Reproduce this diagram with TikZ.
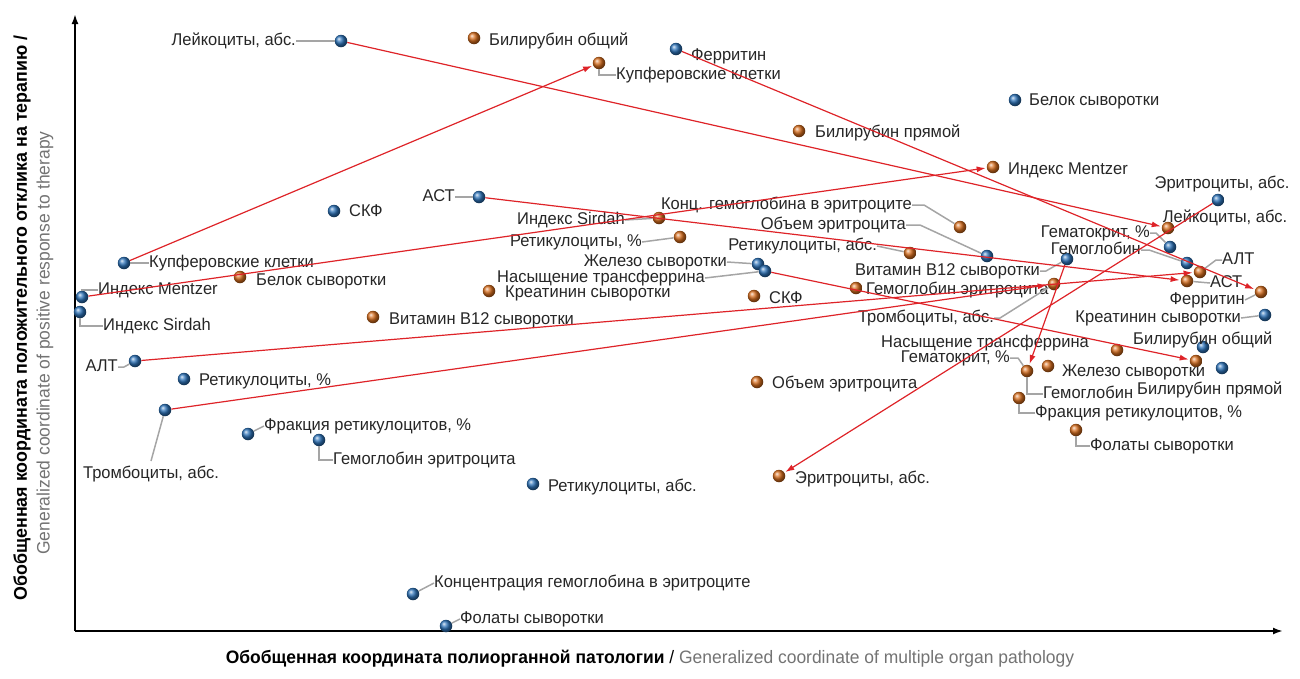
\documentclass[tikz,border=0pt]{standalone}
\usepackage{fontspec}
\setmainfont[FakeStretch=0.97]{Liberation Sans}
\usepackage{tikz}
\usetikzlibrary{arrows.meta,positioning}
\definecolor{ballblue}{RGB}{45,115,185}
\definecolor{ballorange}{RGB}{215,110,30}
\definecolor{arrred}{RGB}{222,35,40}
\definecolor{leadgray}{RGB}{165,165,165}
\begin{document}
\begin{tikzpicture}[x=1pt,y=-1pt,
  bdot/.style={circle,inner sep=0pt,minimum size=12.5pt,ball color=ballblue},
  odot/.style={circle,inner sep=0pt,minimum size=12.5pt,ball color=ballorange},
  lbl/.style={font=\fontsize{17}{19}\selectfont,text=black!85,inner sep=0pt,text height=12pt,text depth=3.5pt},
  lead/.style={draw=leadgray,line width=1.5pt},
  arr/.style={draw=arrred,line width=1.2pt,-{Latex[length=9pt,width=6pt]},shorten >=1pt}]
\useasboundingbox (0,0) rectangle (1300,678);

%axes
\coordinate (origin) at (75,631);
\coordinate (ytip) at (75,14);
\coordinate (xtip) at (1283,631);
\draw[line width=2pt,-{Latex[length=10pt,width=7pt]}] (origin) -- (ytip);
\draw[line width=2pt,-{Latex[length=10pt,width=7pt]}] (origin) -- (xtip);
\node[rotate=90,font=\fontsize{18.4}{20}\selectfont\bfseries] (ytitle) at (22,318) {Обобщенная координата положительного отклика на терапию /};
\node[rotate=90,font=\fontsize{18}{20}\selectfont,text=black!55] (ytitle2) at (45,343) {Generalized coordinate of positive response to therapy};
\node[font=\fontsize{18}{20}\selectfont] (xtitle) at (650,659) {\textbf{Обобщенная координата полиорганной патологии} / \textcolor{black!55}{Generalized coordinate of multiple organ pathology}};

%blue points
\node[bdot] (b-leik) at (341,41) {};
\node[bdot] (b-ferr) at (676,49) {};
\node[bdot] (b-belok) at (1015,100) {};
\node[bdot] (b-skf) at (334,211) {};
\node[bdot] (b-ast) at (479,197) {};
\node[bdot] (b-kupf) at (124,263) {};
\node[bdot] (b-mentz) at (82,297) {};
\node[bdot] (b-sird) at (80,312) {};
\node[bdot] (b-alt) at (135,361) {};
\node[bdot] (b-retp) at (184,379) {};
\node[bdot] (b-tromb) at (165,410) {};
\node[bdot] (b-frak) at (248,434) {};
\node[bdot] (b-hemer) at (319,440) {};
\node[bdot] (b-retabs) at (533,484) {};
\node[bdot] (b-konc) at (413,594) {};
\node[bdot] (b-folat) at (446,626) {};
\node[bdot] (b-zhel) at (758,264) {};
\node[bdot] (b-nas) at (765,271) {};
\node[bdot] (b-obem) at (987,256) {};
\node[bdot] (b-b12) at (1067,259) {};
\node[bdot] (b-eritr) at (1218,200) {};
\node[bdot] (b-gemat) at (1170,247) {};
\node[bdot] (b-gemgl) at (1187,263) {};
\node[bdot] (b-kreat) at (1265,315) {};
\node[bdot] (b-bilo) at (1203,347) {};
\node[bdot] (b-bilp) at (1222,368) {};

%orange points
\node[odot] (o-bilo) at (474,38) {};
\node[odot] (o-kupf) at (599,63) {};
\node[odot] (o-bilp) at (799,131) {};
\node[odot] (o-mentz) at (993,167) {};
\node[odot] (o-sird) at (659,218) {};
\node[odot] (o-retp) at (680,237) {};
\node[odot] (o-belok) at (240,277) {};
\node[odot] (o-kreat) at (489,291) {};
\node[odot] (o-b12) at (373,317) {};
\node[odot] (o-skf) at (754,296) {};
\node[odot] (o-hemer) at (856,288) {};
\node[odot] (o-obem) at (757,382) {};
\node[odot] (o-eritr) at (779,476) {};
\node[odot] (o-konc) at (960,227) {};
\node[odot] (o-retabs) at (910,253) {};
\node[odot] (o-tromb) at (1054,284) {};
\node[odot] (o-leik) at (1168,228) {};
\node[odot] (o-alt) at (1200,272) {};
\node[odot] (o-ast) at (1187,281) {};
\node[odot] (o-ferr) at (1261,292) {};
\node[odot] (o-nas) at (1117,350) {};
\node[odot] (o-gemat) at (1027,371) {};
\node[odot] (o-zhel) at (1048,366) {};
\node[odot] (o-frak) at (1019,398) {};
\node[odot] (o-folat) at (1076,430) {};
\node[odot] (o-x) at (1196,361) {};

%labels, blue
\node[lbl,anchor=east] (l-b-leik) at (296,41) {Лейкоциты, абс.};
\node[lbl,anchor=west] (l-b-ferr) at (691,56) {Ферритин};
\node[lbl,anchor=west] (l-b-belok) at (1029,101) {Белок сыворотки};
\node[lbl,anchor=west] (l-b-skf) at (349,212) {СКФ};
\node[lbl,anchor=east] (l-b-ast) at (455,197) {АСТ};
\node[lbl,anchor=west] (l-b-kupf) at (149,263) {Купферовские клетки};
\node[lbl,anchor=west] (l-b-mentz) at (98,290) {Индекс Mentzer};
\node[lbl,anchor=west] (l-b-sird) at (103,326) {Индекс Sirdah};
\node[lbl,anchor=east] (l-b-alt) at (118,367) {АЛТ};
\node[lbl,anchor=west] (l-b-retp) at (199,381) {Ретикулоциты, \%};
\node[lbl,anchor=north] (l-b-tromb) at (151,466) {Тромбоциты, абс.};
\node[lbl,anchor=west] (l-b-frak) at (264,426) {Фракция ретикулоцитов, \%};
\node[lbl,anchor=west] (l-b-hemer) at (333,460) {Гемоглобин эритроцита};
\node[lbl,anchor=west] (l-b-retabs) at (548,487) {Ретикулоциты, абс.};
\node[lbl,anchor=west] (l-b-konc) at (434,583) {Концентрация гемоглобина в эритроците};
\node[lbl,anchor=west] (l-b-folat) at (460,619) {Фолаты сыворотки};
\node[lbl,anchor=east] (l-b-zhel) at (727,262) {Железо сыворотки};
\node[lbl,anchor=east] (l-b-nas) at (705,278) {Насыщение трансферрина};
\node[lbl,anchor=east] (l-b-obem) at (906,225) {Объем эритроцита};
\node[lbl,anchor=east] (l-b-b12) at (1040,271) {Витамин B12 сыворотки};
\node[lbl] (l-b-eritr) at (1222,184) {Эритроциты, абс.};
\node[lbl,anchor=east] (l-b-gemat) at (1150,233) {Гематокрит, \%};
\node[lbl,anchor=east] (l-b-gemgl) at (1141,250) {Гемоглобин};
\node[lbl,anchor=east] (l-b-kreat) at (1241,318) {Креатинин сыворотки};
\node[lbl,anchor=west] (l-b-bilo) at (1133,340) {Билирубин общий};
\node[lbl,anchor=west] (l-b-bilp) at (1137,390) {Билирубин прямой};

%labels, orange
\node[lbl,anchor=west] (l-o-bilo) at (489,41) {Билирубин общий};
\node[lbl,anchor=west] (l-o-kupf) at (616,75) {Купферовские клетки};
\node[lbl,anchor=west] (l-o-bilp) at (815,133) {Билирубин прямой};
\node[lbl,anchor=west] (l-o-mentz) at (1008,170) {Индекс Mentzer};
\node[lbl,anchor=east] (l-o-sird) at (625,220) {Индекс Sirdah};
\node[lbl,anchor=east] (l-o-retp) at (642,242) {Ретикулоциты, \%};
\node[lbl,anchor=west] (l-o-belok) at (256,281) {Белок сыворотки};
\node[lbl,anchor=west] (l-o-kreat) at (505,293) {Креатинин сыворотки};
\node[lbl,anchor=west] (l-o-b12) at (389,320) {Витамин B12 сыворотки};
\node[lbl,anchor=west] (l-o-skf) at (769,299) {СКФ};
\node[lbl,anchor=west] (l-o-hemer) at (866,290) {Гемоглобин эритроцита};
\node[lbl,anchor=west] (l-o-obem) at (772,384) {Объем эритроцита};
\node[lbl,anchor=west] (l-o-eritr) at (795,479) {Эритроциты, абс.};
\node[lbl,anchor=east] (l-o-konc) at (912,205) {Конц. гемоглобина в эритроците};
\node[lbl,anchor=east] (l-o-retabs) at (877,246) {Ретикулоциты, абс.};
\node[lbl,anchor=east] (l-o-tromb) at (994,318) {Тромбоциты, абс.};
\node[lbl] (l-o-leik) at (1225,218) {Лейкоциты, абс.};
\node[lbl,anchor=west] (l-o-alt) at (1222,260) {АЛТ};
\node[lbl,anchor=west] (l-o-ast) at (1210,283) {АСТ};
\node[lbl,anchor=east] (l-o-ferr) at (1245,300) {Ферритин};
\node[lbl,anchor=east] (l-o-nas) at (1089,343) {Насыщение трансферрина};
\node[lbl,anchor=east] (l-o-gemat) at (1010,358) {Гематокрит, \%};
\node[lbl,anchor=west] (l-o-zhel) at (1062,372) {Железо сыворотки};
\node[lbl,anchor=west] (l-o-gemgl) at (1043,394) {Гемоглобин};
\node[lbl,anchor=west] (l-o-frak) at (1035,413) {Фракция ретикулоцитов, \%};
\node[lbl,anchor=west] (l-o-folat) at (1090,446) {Фолаты сыворотки};

%leaders
\draw[lead] (l-b-leik) -- (b-leik);
\draw[lead] (l-b-ast) -- (b-ast);
\draw[lead] (l-b-kupf) -- (b-kupf);
\draw[lead] (l-b-mentz.west) -| (b-mentz);
\draw[lead] (b-sird) |- (l-b-sird.west);
\draw[lead] (l-b-alt.east) -- ++(6,0) -- (b-alt);
\draw[lead] (b-tromb) -- ([yshift=5pt]l-b-tromb.north);
\draw[lead] (b-frak) -- (l-b-frak.west);
\draw[lead] (b-hemer) |- (l-b-hemer.west);
\draw[lead] (b-konc) -- (l-b-konc.west);
\draw[lead] (b-folat) -- (l-b-folat.west);
\draw[lead] (l-b-zhel.east) -- (b-zhel);
\draw[lead] (l-b-nas.east) -- (b-nas);
\draw[lead] (l-b-obem.east) -- ++(14,0) -- (b-obem);
\draw[lead] (l-b-b12.east) -- ++(6,0) -- (b-b12);
\draw[lead] (l-b-gemat.east) -- ++(6,0) -- (b-gemat);
\draw[lead] (l-b-gemgl.east) -- ++(8,0) -- (b-gemgl);
\draw[lead] (l-b-kreat.east) -- (b-kreat);
\draw[lead] (o-kupf) |- (l-o-kupf.west);
\draw[lead] (l-o-sird.east) -- (o-sird);
\draw[lead] (l-o-retp.east) -- (o-retp);
\draw[lead] (l-o-konc.east) -- ++(12,0) -- (o-konc);
\draw[lead] (l-o-retabs.east) -- (o-retabs);
\draw[lead] (l-o-tromb.east) -- ++(6,0) -- (o-tromb);
\draw[lead] (l-o-alt.west) -- ++(-6,0) -- (o-alt);
\draw[lead] (l-o-ast.west) -- (o-ast);
\draw[lead] (l-o-ferr.east) -- (o-ferr);
\draw[lead] (l-o-gemat.east) -- ++(8,0) -- (o-gemat);
\draw[lead] (o-gemat) |- (l-o-gemgl.west);
\draw[lead] (o-frak) |- (l-o-frak.west);
\draw[lead] (o-folat) |- (l-o-folat.west);

%shifts
\draw[arr] (b-leik) -- (o-leik);
\draw[arr] (b-kupf) -- (o-kupf);
\draw[arr] (b-ferr) -- (o-ferr);
\draw[arr] (b-mentz) -- (o-mentz);
\draw[arr] (b-ast) -- (o-ast);
\draw[arr] (b-alt) -- (o-alt);
\draw[arr] (b-tromb) -- (o-tromb);
\draw[arr] (b-nas) -- (o-x);
\draw[arr] (b-b12) -- (o-gemat);
\draw[arr] (b-eritr) -- (o-eritr);
\end{tikzpicture}
\end{document}
